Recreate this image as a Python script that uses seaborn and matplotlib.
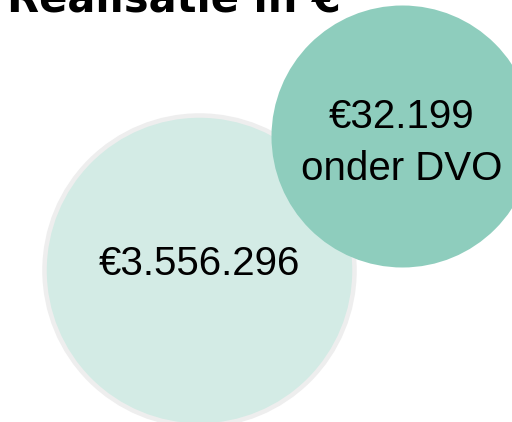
import matplotlib
matplotlib.use("Agg")
import matplotlib.pyplot as plt
import seaborn as sns
import pandas as pd

# data
title = "Realisatie in €"
labels = ["€3.556.296", "€32.199\nonder DVO"]
values = [3556296, 32199]

# layout (pixels)
cx = [199, 402]
cy = [270, 136]
radius = [155, 131]
fills = ["#d3ebe5", "#8ecdbd"]
edges = ["#eeeeee", "#8ecdbd"]
edge_px = [4.5, 0]
text_y = [264, 143]

W, H, DPI = 512, 422, 100
sns.set_theme(style="white")
plt.rcParams['font.family'] = ['Liberation Sans', 'DejaVu Sans']

fig = plt.figure(figsize=(W / DPI, H / DPI), dpi=DPI)
ax = fig.add_axes([0, 0, 1, 1])
df = pd.DataFrame({"label": labels, "value": values, "x": cx, "y": cy,
                   "r": radius})
px2pt = 72 / DPI
for i, row in df.iterrows():
    d = pd.DataFrame({"x": [row.x], "y": [row.y]})
    sns.scatterplot(data=d, x="x", y="y", ax=ax, marker="o",
                    s=(2 * row.r * px2pt) ** 2, color=fills[i],
                    edgecolor=edges[i], linewidth=edge_px[i] * px2pt,
                    legend=False, zorder=2 + i)
    ax.text(row.x, text_y[i], row.label, ha="center", va="center",
            fontsize=29, color="black", linespacing=1.45, zorder=5)

ax.text(7, 11, title, ha="left", va="baseline", fontsize=30,
        fontweight="bold", family=["DejaVu Sans"], color="black")
ax.set_xlim(0, W)
ax.set_ylim(H, 0)
ax.axis("off")
fig.savefig("out.png", dpi=DPI)
